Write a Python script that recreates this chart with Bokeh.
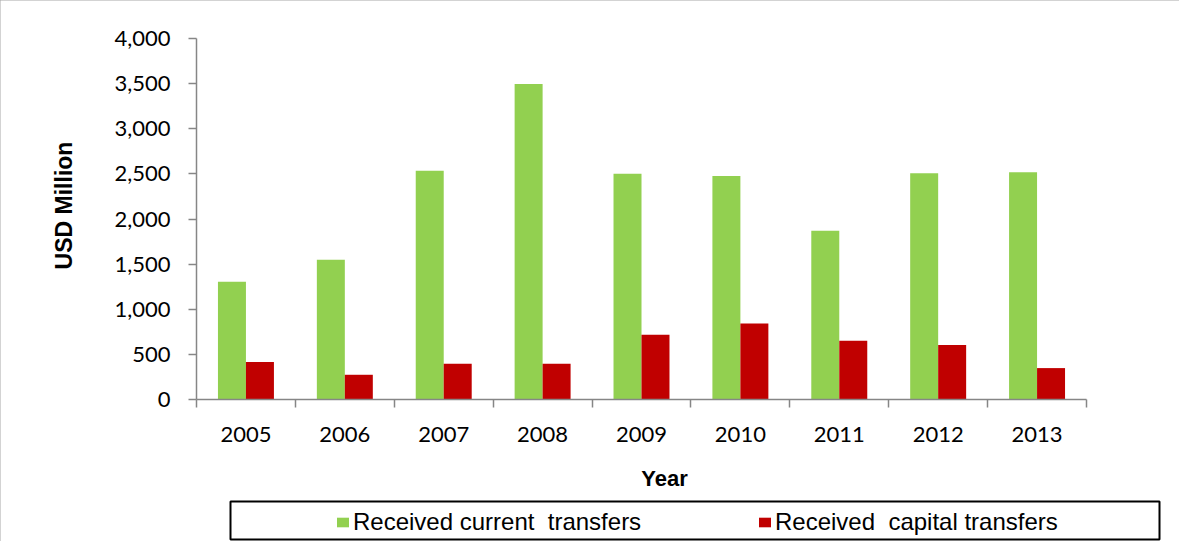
from bokeh.plotting import figure
from bokeh.models import (ColumnDataSource, Range1d, FixedTicker, NumeralTickFormatter,
                          Legend, LegendItem, BoxAnnotation, Label)
from bokeh.transform import dodge
from bokeh.embed import file_html
from bokeh.resources import INLINE

# ---- data ----
years = ["2005", "2006", "2007", "2008", "2009", "2010", "2011", "2012", "2013"]
current_transfers = [1305, 1549, 2535, 3497, 2502, 2477, 1870, 2506, 2517]
capital_transfers = [415, 274, 396, 396, 717, 843, 651, 603, 348]
y_ticks = [0, 500, 1000, 1500, 2000, 2500, 3000, 3500, 4000]
y_max = 4000

GREEN = "#92D050"
RED = "#C00000"
AXIS = "#868686"

n = len(years)
pos = [i + 0.5 for i in range(n)]
src = ColumnDataSource(dict(x=pos, year=years, cur=current_transfers, cap=capital_transfers))

# ---- geometry (pixels); the frame covers the whole canvas ----
W, H = 1179, 541
AX_LEFT, AX_RIGHT, AX_TOP, AX_ZERO = 196, 1086, 38, 399
px_per_x = (AX_RIGHT - AX_LEFT) / n
px_per_y = (AX_ZERO - AX_TOP) / y_max

p = figure(width=W, height=H, output_backend="svg", toolbar_location=None,
           x_range=Range1d(-AX_LEFT / px_per_x, (W - AX_LEFT) / px_per_x),
           y_range=Range1d(-(H - AX_ZERO) / px_per_y, AX_ZERO / px_per_y),
           min_border_left=0, min_border_right=0, min_border_top=0, min_border_bottom=0,
           background_fill_color="white", border_fill_color="white",
           outline_line_color=None)
p.styles = {"outline": "1px solid #a6a6a6", "outline-offset": "-1px"}

bw = 0.283
r1 = p.vbar(x=dodge("x", -bw / 2, range=p.x_range), top="cur", width=bw, source=src,
            fill_color=GREEN, line_color=None)
r2 = p.vbar(x=dodge("x", bw / 2, range=p.x_range), top="cap", width=bw, source=src,
            fill_color=RED, line_color=None)

p.xgrid.visible = False
p.ygrid.visible = False

# x axis at y=0: ticks at category boundaries (minor), labels at centres
xa = p.xaxis[0]
xa.fixed_location = 0
xa.bounds = (0, n)
xa.ticker = FixedTicker(ticks=pos, minor_ticks=list(range(n + 1)))
xa.major_label_overrides = {v: y for v, y in zip(pos, years)}
xa.major_tick_out = 0
xa.major_tick_in = 0
xa.minor_tick_out = 8
xa.minor_tick_in = 0
xa.minor_tick_line_color = AXIS
xa.minor_tick_line_width = 1.5
xa.axis_line_color = AXIS
xa.axis_line_width = 1.5
xa.major_label_standoff = 19
xa.major_label_text_font = "Lato"
xa.major_label_text_font_size = "22px"
xa.major_label_text_color = "black"

# y axis at x=0
ya = p.yaxis[0]
ya.fixed_location = 0
ya.bounds = (0, y_max)
ya.ticker = FixedTicker(ticks=y_ticks, minor_ticks=[])
ya.formatter = NumeralTickFormatter(format="0,0")
ya.major_tick_out = 8
ya.major_tick_in = 0
ya.major_tick_line_color = AXIS
ya.major_tick_line_width = 1.5
ya.axis_line_color = AXIS
ya.axis_line_width = 1.5
ya.major_label_standoff = 18
ya.major_label_text_font = "Lato"
ya.major_label_text_font_size = "22px"
ya.major_label_text_color = "black"

# axis titles
p.add_layout(Label(x=63, y=H - 205, x_units="screen", y_units="screen",
                   text="USD Million", angle=90, angle_units="deg",
                   text_align="center", text_baseline="middle",
                   text_font="Liberation Sans", text_font_style="bold",
                   text_font_size="23px", text_color="black"))
p.add_layout(Label(x=664, y=H - 478, x_units="screen", y_units="screen",
                   text="Year", text_align="center", text_baseline="middle",
                   text_font="Liberation Sans", text_font_style="bold",
                   text_font_size="22px", text_color="black"))

# legend frame
box = BoxAnnotation(left=230, right=1159, top=501, bottom=539,
                    left_units="canvas", right_units="canvas",
                    top_units="canvas", bottom_units="canvas",
                    fill_color=None, fill_alpha=0,
                    line_color="black", line_alpha=1.0, line_width=2)
p.add_layout(box)

legend = Legend(items=[LegendItem(label="Received current  transfers", renderers=[r1]),
                       LegendItem(label="Received  capital transfers", renderers=[r2])],
                orientation="horizontal", location=(335, 5),
                glyph_width=15, glyph_height=12, label_standoff=3, label_width=374,
                label_height=24, spacing=30, padding=0, margin=0,
                border_line_color=None, background_fill_alpha=0,
                label_text_font="Liberation Sans", label_text_font_size="24px",
                label_text_color="black")
p.add_layout(legend)

open("out.html", "w").write(file_html(p, INLINE))
